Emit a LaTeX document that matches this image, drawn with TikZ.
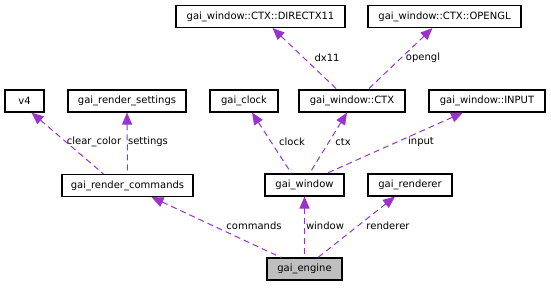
\documentclass[tikz,border=0pt]{standalone}
\usepackage{fontspec}
\setmainfont{DejaVu Sans}
\usetikzlibrary{arrows.meta, positioning}
\definecolor{edgepurple}{HTML}{9A32CD}
\definecolor{selfgray}{HTML}{BFBFBF}

\begin{document}
\begin{tikzpicture}[
    x=1pt, y=-1pt,
    >={Triangle[length=12pt, width=10pt]},
    cls/.style={draw, line width=1.1pt, minimum height=22pt, inner sep=0pt, font=\fontsize{10}{12}\selectfont},
    lbl/.style={inner sep=0pt, font=\fontsize{10}{12}\selectfont},
    uses/.style={<-, edgepurple, line width=1pt, dash pattern=on 6pt off 4pt}
  ]
    \useasboundingbox (0,0) rectangle (551,287);

    % classes
    \node[cls, minimum width=169pt] (dx)       at (260.5,16.5) {gai\_window::CTX::DIRECTX11};
    \node[cls, minimum width=153pt] (ogl)      at (444.5,16.5) {gai\_window::CTX::OPENGL};
    \node[cls, minimum width=39pt]  (v4)       at (24.5,101)   {v4};
    \node[cls, minimum width=118pt] (settings) at (127,101)    {gai\_render\_settings};
    \node[cls, minimum width=68pt]  (clock)    at (244,101)    {gai\_clock};
    \node[cls, minimum width=106pt] (ctx)      at (352,101)    {gai\_window::CTX};
    \node[cls, minimum width=116pt] (input)    at (487,101)    {gai\_window::INPUT};
    \node[cls, minimum width=131pt] (commands) at (127.5,185.5){gai\_render\_commands};
    \node[cls, minimum width=79pt]  (window)   at (304.5,185)  {gai\_window};
    \node[cls, minimum width=84pt]  (renderer) at (410,185)    {gai\_renderer};
    \node[cls, minimum width=75pt, fill=selfgray] (engine) at (304.5,269) {gai\_engine};

    % member links
    \draw[uses] ([xshift=12pt]dx.south) -- ([xshift=-15pt]ctx.north);
    \draw[uses] ([xshift=-12pt]ogl.south) -- ([xshift=16pt]ctx.north);
    \draw[uses] ([xshift=7pt]v4.south) -- ([xshift=-24pt]commands.north);
    \draw[uses] (settings.south) -- (commands.north);
    \draw[uses] ([xshift=8pt]clock.south) -- ([xshift=-13pt]window.north);
    \draw[uses] ([xshift=-5pt]ctx.south) -- ([xshift=5pt]window.north);
    \draw[uses] ([xshift=-24pt]input.south) -- ([xshift=22pt]window.north);
    \draw[uses] ([xshift=24pt]commands.south) -- ([xshift=-23.5pt]engine.north);
    \draw[uses] (window.south) -- (engine.north);
    \draw[uses] ([xshift=-15pt]renderer.south) -- ([xshift=13.5pt]engine.north);

    % member names
    \node[lbl] (l-dx11)     at (327,58)  {dx11};
    \node[lbl] (l-opengl)   at (423,58)  {opengl};
    \node[lbl] (l-clear)    at (94,142)  {clear\_color};
    \node[lbl] (l-settings) at (148,142) {settings};
    \node[lbl] (l-clock)    at (292,142) {clock};
    \node[lbl] (l-ctx)      at (343,142) {ctx};
    \node[lbl] (l-input)    at (421,142) {input};
    \node[lbl] (l-commands) at (254,226) {commands};
    \node[lbl] (l-window)   at (325,226) {window};
    \node[lbl] (l-renderer) at (388,226) {renderer};
  \end{tikzpicture}
\end{document}
